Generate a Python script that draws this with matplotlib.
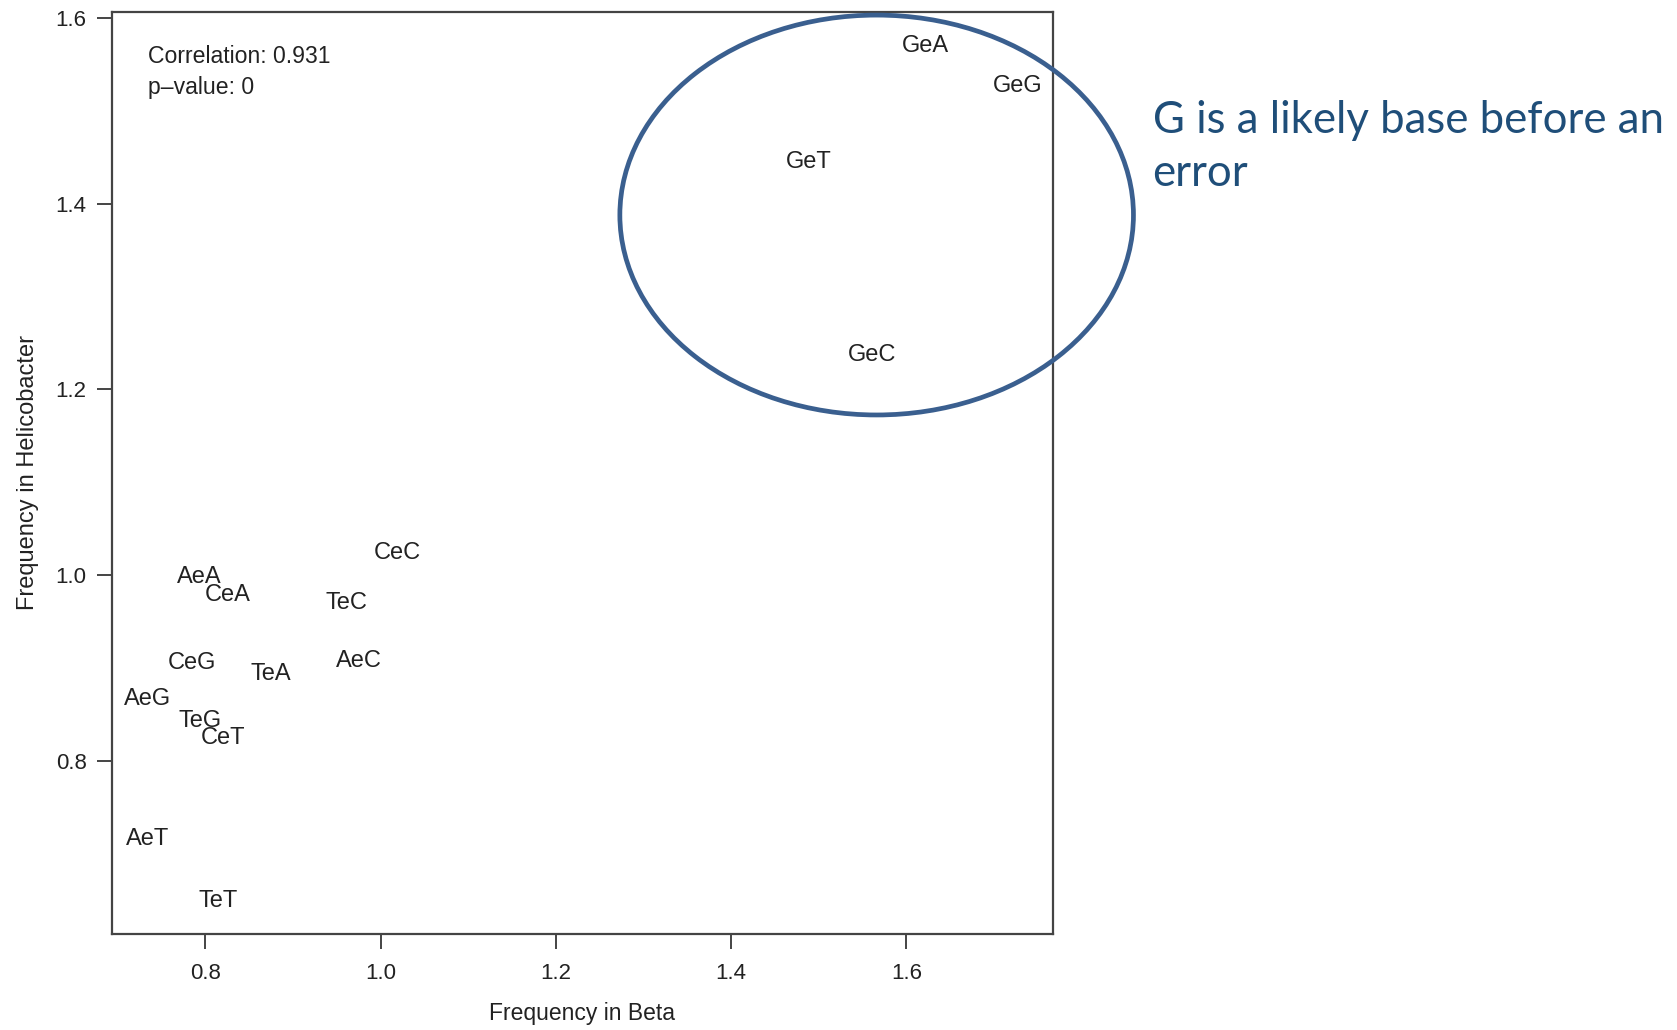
import matplotlib.pyplot as plt
from matplotlib.patches import Ellipse

# Dinucleotide error-context frequencies in the two genomes
labels = ['GeA', 'GeG', 'GeT', 'GeC', 'CeC', 'AeA', 'CeA', 'TeC', 'CeG',
          'TeA', 'AeC', 'AeG', 'TeG', 'CeT', 'AeT', 'TeT']
beta = [1.622, 1.727, 1.489, 1.561, 1.019, 0.793, 0.826, 0.961, 0.785,
        0.875, 0.975, 0.734, 0.794, 0.820, 0.734, 0.815]
helico = [1.570, 1.527, 1.445, 1.237, 1.024, 0.998, 0.978, 0.970, 0.905,
          0.893, 0.907, 0.866, 0.843, 0.824, 0.715, 0.649]
ticks = [0.8, 1.0, 1.2, 1.4, 1.6]

correlation = 0.931
p_value = 0

plt.rcParams['font.family'] = ['Liberation Sans', 'DejaVu Sans']
ink = '#222222'

fig = plt.figure(figsize=(16.77, 10.30), dpi=100)
ax = fig.add_axes([0.0665, 0.0935, 0.5613, 0.895])

for lab, x, y in zip(labels, beta, helico):
    ax.text(x, y, lab, ha='center', va='center', fontsize=17, color=ink)

ax.text(0.0385, 0.952, 'Correlation: %.3f' % correlation, transform=ax.transAxes,
        fontsize=16.6, color=ink, va='center')
ax.text(0.0385, 0.918, 'p\u2013value: %d' % p_value, transform=ax.transAxes,
        fontsize=16.6, color=ink, va='center')

ax.set_xlim(0.693, 1.767)
ax.set_ylim(0.6134, 1.607)
ax.set_xticks(ticks)
ax.set_yticks(ticks)
ax.set_xticklabels(['%.1f' % t for t in ticks])
ax.set_yticklabels(['%.1f' % t for t in ticks])
ax.tick_params(direction='out', length=11, width=1.4, colors='#444444',
               labelcolor=ink, labelsize=16, pad=7)
ax.tick_params(axis='x', pad=10)
for s in ax.spines.values():
    s.set_linewidth(1.6)
    s.set_color('#444444')

ax.set_xlabel('Frequency in Beta', fontsize=16.5, color=ink, labelpad=13)
ax.set_ylabel('Frequency in Helicobacter', fontsize=17, color=ink, labelpad=12)

# highlight the G-preceded contexts
ring = Ellipse((1.566, 1.388), 0.586, 0.431, fill=False, edgecolor='#3A5F8F',
               linewidth=3.4, clip_on=False, zorder=5)
ax.add_patch(ring)

fig.text(0.6873, 0.857, 'G is a likely base before an\nerror', fontsize=31.5,
         family=['Lato', 'DejaVu Sans'], color='#1F4E79', va='center',
         ha='left', linespacing=1.37)

fig.savefig('out.png', dpi=100)
